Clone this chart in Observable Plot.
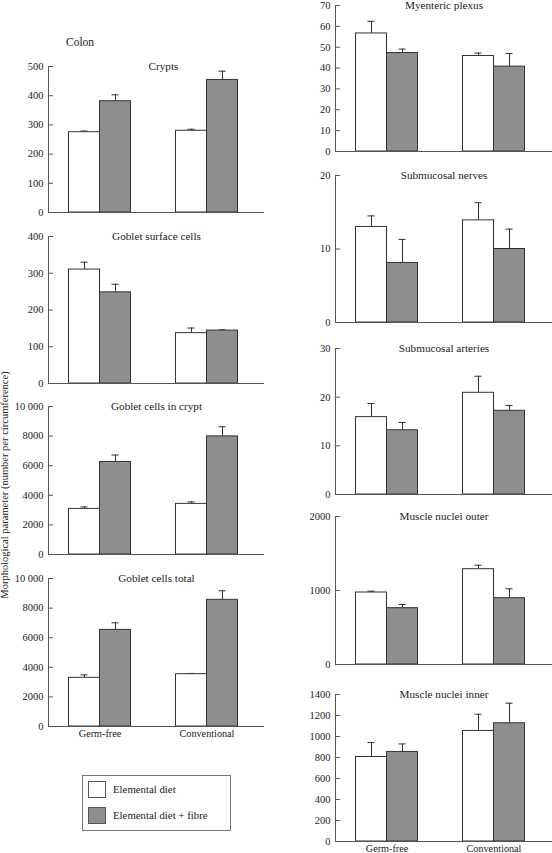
<!DOCTYPE html>
<html><head><meta charset="utf-8">
<script src="https://cdn.jsdelivr.net/npm/d3@7"></script>
<script src="https://cdn.jsdelivr.net/npm/@observablehq/plot@0.6"></script>
<style>
body{margin:0;background:#fff;}
#root{position:relative;width:552px;height:853px;overflow:hidden;font-family:"Liberation Serif","Times New Roman",serif;color:#222;}
.panel{position:absolute;}
.lbl{position:absolute;font-size:11.5px;white-space:nowrap;}
#ytitle{position:absolute;width:320px;height:12px;line-height:12px;text-align:center;font-size:10.5px;transform:rotate(-90deg);left:-155px;top:479px;}
#legend{position:absolute;left:82px;top:775px;width:149px;height:56px;border:1px solid #777;box-sizing:border-box;}
.sw{position:absolute;left:5px;width:18px;height:17px;border:1px solid #555;box-sizing:border-box;}
.lt{position:absolute;left:30px;font-size:10.8px;white-space:nowrap;}
</style></head><body><div id="root">
<div class="lbl" style="left:66px;top:36px;">Colon</div>
<div id="ytitle">Morphological parameter (number per circumference)</div>
<div id="legend">
  <div class="sw" style="top:5px;background:#fff;"></div><div class="lt" style="top:7px;">Elemental diet</div>
  <div class="sw" style="top:31px;background:#8e8e8e;"></div><div class="lt" style="top:33px;">Elemental diet + fibre</div>
</div>
</div>
<script>
const groups = ["Germ-free", "Conventional"];
const diets = ["Elemental diet", "Elemental diet + fibre"];

// values ordered: [elemental GF, elemental Conv, fibre GF, fibre Conv]
const crypts = [275, 280, 381, 454];
const cryptsSem = [4, 5, 22, 30];
const cryptsTicks = [0, 100, 200, 300, 400, 500];

const gobletSurface = [310, 137, 248, 144];
const gobletSurfaceSem = [20, 14, 22, 2];
const gobletSurfaceTicks = [0, 100, 200, 300, 400];

const gobletCrypt = [3080, 3420, 6250, 7980];
const gobletCryptSem = [135, 135, 470, 650];
const gobletCryptTicks = [0, 2000, 4000, 6000, 8000, 10000];

const gobletTotal = [3290, 3535, 6530, 8560];
const gobletTotalSem = [200, 50, 475, 610];
const gobletTotalTicks = [0, 2000, 4000, 6000, 8000, 10000];

const myenteric = [56.6, 45.8, 47.2, 40.7];
const myentericSem = [5.8, 1.4, 1.9, 6.3];
const myentericTicks = [0, 10, 20, 30, 40, 50, 60, 70];

const subNerves = [13.0, 13.9, 8.1, 10.0];
const subNervesSem = [1.5, 2.4, 3.2, 2.7];
const subNervesTicks = [0, 10, 20];

const subArteries = [15.9, 20.9, 13.2, 17.2];
const subArteriesSem = [2.8, 3.4, 1.6, 1.1];
const subArteriesTicks = [0, 10, 20, 30];

const muscleOuter = [973, 1288, 761, 896];
const muscleOuterSem = [18, 54, 50, 127];
const muscleOuterTicks = [0, 1000, 2000];

const muscleInner = [805, 1053, 853, 1126];
const muscleInnerSem = [137, 159, 76, 191];
const muscleInnerTicks = [0, 200, 400, 600, 800, 1000, 1200, 1400];

const fmt = d => d >= 10000 ? d3.format(",")(d).replace(",", " ") : String(d);

function panel(values, sems, ticks, title, pos) {
  const rows = [];
  diets.forEach((d, j) => groups.forEach((g, i) => rows.push({group: g, diet: d, v: values[j * 2 + i], e: sems[j * 2 + i]})));
  const E = rows.filter(r => r.diet === diets[0]);
  const F = rows.filter(r => r.diet === diets[1]);
  const mt = 10, mb = pos.showX ? 22 : 3;
  const errMarks = (data, dx) => [
    Plot.ruleX(data, {x: "group", y1: "v", y2: d => d.v + d.e, dx, stroke: "#333"}),
    Plot.tickY(data, {x: "group", y: d => d.v + d.e, dx, insetLeft: 12, insetRight: 12, stroke: "#333"})
  ];
  const chart = Plot.plot({
    width: pos.width, height: mt + pos.h + mb,
    marginTop: mt, marginBottom: mb, marginLeft: pos.ml, marginRight: pos.mr,
    style: {fontFamily: '"Liberation Serif","Times New Roman",serif', fontSize: "10.5px", color: "#222", background: "transparent", overflow: "visible"},
    x: {domain: groups, paddingInner: 0.7116, paddingOuter: 0.3605, align: 0.458, axis: null},
    y: {domain: [0, ticks[ticks.length - 1]], axis: null},
    color: {domain: diets, range: ["#ffffff", "#8e8e8e"]},
    marks: [
      ...errMarks(E, -15.5),
      ...errMarks(F, 15.5),
      Plot.barY(E, {x: "group", y: "v", dx: -15.5, fill: "diet", stroke: "#333"}),
      Plot.barY(F, {x: "group", y: "v", dx: 15.5, fill: "diet", stroke: "#333"}),
      Plot.frame({anchor: "left", stroke: "#555"}),
      Plot.ruleY([0], {stroke: "#555"}),
      Plot.axisY(ticks, {tickSize: 5, dx: 5, tickPadding: 5, tickFormat: fmt, stroke: "#555", fill: "#222", fontSize: 10.5, label: null}),
      Plot.text([title], {frameAnchor: "top", lineAnchor: "middle", dx: pos.tdx || 0, fontSize: 11.2, fill: "#222"}),
      pos.showX ? Plot.axisX({tickSize: 0, tickPadding: 3, fontSize: 10.2, fill: "#222", label: null}) : null
    ]
  });
  chart.classList.add("panel");
  chart.style.left = pos.left + "px";
  chart.style.top = (pos.top - mt) + "px";
  document.getElementById("root").appendChild(chart);
}

const L = {left: 0, width: 270, ml: 48, mr: 6};
const R = {left: 283, width: 269, ml: 52, mr: 0};

panel(crypts, cryptsSem, cryptsTicks, "Crypts", {...L, top: 66, h: 146, tdx: 7});
panel(gobletSurface, gobletSurfaceSem, gobletSurfaceTicks, "Goblet surface cells", {...L, top: 236, h: 147});
panel(gobletCrypt, gobletCryptSem, gobletCryptTicks, "Goblet cells in crypt", {...L, top: 406, h: 148});
panel(gobletTotal, gobletTotalSem, gobletTotalTicks, "Goblet cells total", {...L, top: 578, h: 148, showX: true});

panel(myenteric, myentericSem, myentericTicks, "Myenteric plexus", {...R, top: 5, h: 146});
panel(subNerves, subNervesSem, subNervesTicks, "Submucosal nerves", {...R, top: 175, h: 147});
panel(subArteries, subArteriesSem, subArteriesTicks, "Submucosal arteries", {...R, top: 348, h: 146});
panel(muscleOuter, muscleOuterSem, muscleOuterTicks, "Muscle nuclei outer", {...R, top: 516, h: 148});
panel(muscleInner, muscleInnerSem, muscleInnerTicks, "Muscle nuclei inner", {...R, top: 694, h: 147, showX: true});
</script>
</body></html>
